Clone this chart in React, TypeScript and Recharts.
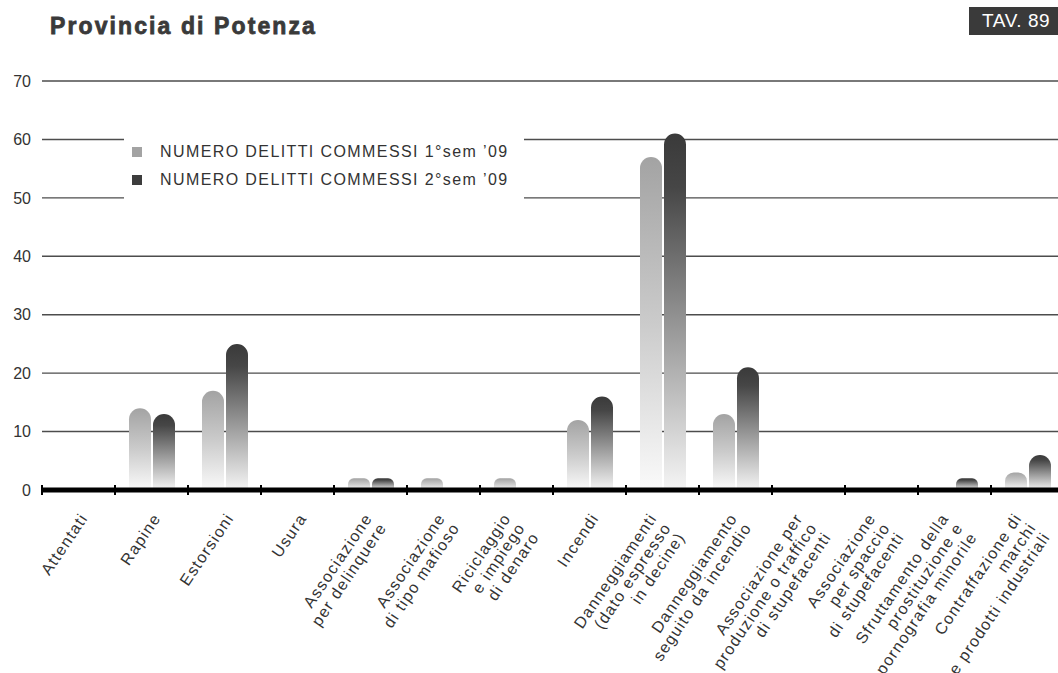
import { Bar, BarChart, CartesianGrid, Legend, XAxis, YAxis } from "recharts"

const categories = [
  "Attentati",
  "Rapine",
  "Estorsioni",
  "Usura",
  "Associazione\nper delinquere",
  "Associazione\ndi tipo mafioso",
  "Riciclaggio\ne impiego\ndi denaro",
  "Incendi",
  "Danneggiamenti\n(dato espresso\nin decine)",
  "Danneggiamento\nseguito da incendio",
  "Associazione per\nproduzione o traffico\ndi stupefacenti",
  "Associazione\nper spaccio\ndi stupefacenti",
  "Sfruttamento della\nprostituzione e\npornografia minorile",
  "Contraffazione di\nmarchi\ne prodotti industriali",
]
const firstHalf = [0, 14, 17, 0, 2, 2, 2, 12, 57, 13, 0, 0, 0, 3]
const secondHalf = [0, 13, 25, 0, 2, 0, 0, 16, 61, 21, 0, 0, 2, 6]
const yTicks = [0, 10, 20, 30, 40, 50, 60, 70]
const seriesNames = ["NUMERO DELITTI COMMESSI 1°sem ’09", "NUMERO DELITTI COMMESSI 2°sem ’09"]
const swatches = ["#a3a3a3", "#3d3d3d"]

const data = categories.map((name, i) => ({ name, s1: firstHalf[i], s2: secondHalf[i] }))

const FONT = '"Liberation Sans", Arial, Helvetica, sans-serif'
const INK = "#333"

// labels hang off the tick, rotated, right-aligned; tick marks sit on the band edges
function CategoryTick(props: any) {
  const { x, y, payload, index } = props
  const half = payload?.offset ?? 36.5
  const lines = String(payload.value).split("\n")
  const ax = x + 10 - 7.5 * (lines.length - 1)
  const ay = y + 28
  return (
    <g>
      <line x1={x - half} x2={x - half} y1={y - 5} y2={y + 5} stroke="#000" strokeWidth={2} />
      {index === categories.length - 1 && (
        <line x1={x + half} x2={x + half} y1={y - 5} y2={y + 5} stroke="#000" strokeWidth={2} />
      )}
      <g transform={`translate(${ax},${ay}) rotate(-56)`}>
        {lines.map((l, i) => (
          <text key={i} x={0} y={i * 17} textAnchor="end" fontSize={16} letterSpacing={1.3} fill={INK} fontFamily={FONT}>
            {l}
          </text>
        ))}
      </g>
    </g>
  )
}

function LegendBox({ payload }: any) {
  return (
    <div style={{ paddingTop: 4, fontFamily: FONT }}>
      {(payload || []).map((entry: any, i: number) => (
        <div key={i} style={{ display: "flex", alignItems: "center", height: 28 }}>
          <span style={{ width: 10, height: 10, marginLeft: 8, marginRight: 18, background: swatches[i] }} />
          <span style={{ fontSize: 16, letterSpacing: 1.4, color: INK }}>{entry.value}</span>
        </div>
      ))}
    </div>
  )
}

export default function App() {
  return (
    <div style={{ position: "fixed", inset: 0, overflow: "hidden", background: "#fff", fontFamily: FONT }}>
      <div
        style={{
          position: "absolute", left: 50, top: 15, fontSize: 23, lineHeight: "23px", fontWeight: 900,
          letterSpacing: 2.1, color: "#3a3a3a", WebkitTextStroke: "0.8px #3a3a3a",
        }}
      >
        Provincia di Potenza
      </div>
      <div
        style={{
          position: "absolute", left: 969, top: 7, width: 100, height: 28, background: "#3a3a3a",
          color: "#fff", fontSize: 19, lineHeight: "28px", paddingLeft: 13, letterSpacing: 0.6, boxSizing: "border-box",
        }}
      >
        TAV. 89
      </div>
      <div style={{ position: "absolute", left: 0, top: 0 }}>
        <BarChart
          width={1066}
          height={673}
          data={data}
          margin={{ top: 81, right: 2, bottom: 0, left: 0 }}
          barGap={2}
        >
          <defs>
            <linearGradient id="gLight" x1="0" y1="0" x2="0" y2="1">
              <stop offset="0" stopColor="#a3a3a3" />
              <stop offset="0.5" stopColor="#cbcbcb" />
              <stop offset="1" stopColor="#fafafa" />
            </linearGradient>
            <linearGradient id="gDark" x1="0" y1="0" x2="0" y2="1">
              <stop offset="0" stopColor="#3a3a3a" />
              <stop offset="0.15" stopColor="#464646" />
              <stop offset="0.6" stopColor="#a3a3a3" />
              <stop offset="1" stopColor="#f5f5f5" />
            </linearGradient>
          </defs>
          <CartesianGrid vertical={false} stroke="#4d4d4d" strokeWidth={1.4} />
          <XAxis
            dataKey="name"
            interval={0}
            height={183}
            tickSize={0}
            tickMargin={0}
            tickLine={false}
            axisLine={{ stroke: "#000", strokeWidth: 5 }}
            tick={<CategoryTick />}
          />
          <YAxis
            domain={[0, 70]}
            ticks={yTicks}
            width={42}
            tickSize={0}
            tickMargin={11}
            axisLine={false}
            tickLine={false}
            tick={{ fontSize: 16, fill: INK, fontFamily: FONT }}
          />
          <Legend
            layout="horizontal"
            verticalAlign="middle"
            align="center"
            wrapperStyle={{ left: 124, top: 134, width: 400, height: 68, background: "#fff" }}
            content={<LegendBox />}
          />
          <Bar dataKey="s1" name={seriesNames[0]} fill="url(#gLight)" barSize={22} radius={[11, 11, 0, 0]} isAnimationActive={false} />
          <Bar dataKey="s2" name={seriesNames[1]} fill="url(#gDark)" barSize={22} radius={[11, 11, 0, 0]} isAnimationActive={false} />
        </BarChart>
      </div>
    </div>
  )
}
